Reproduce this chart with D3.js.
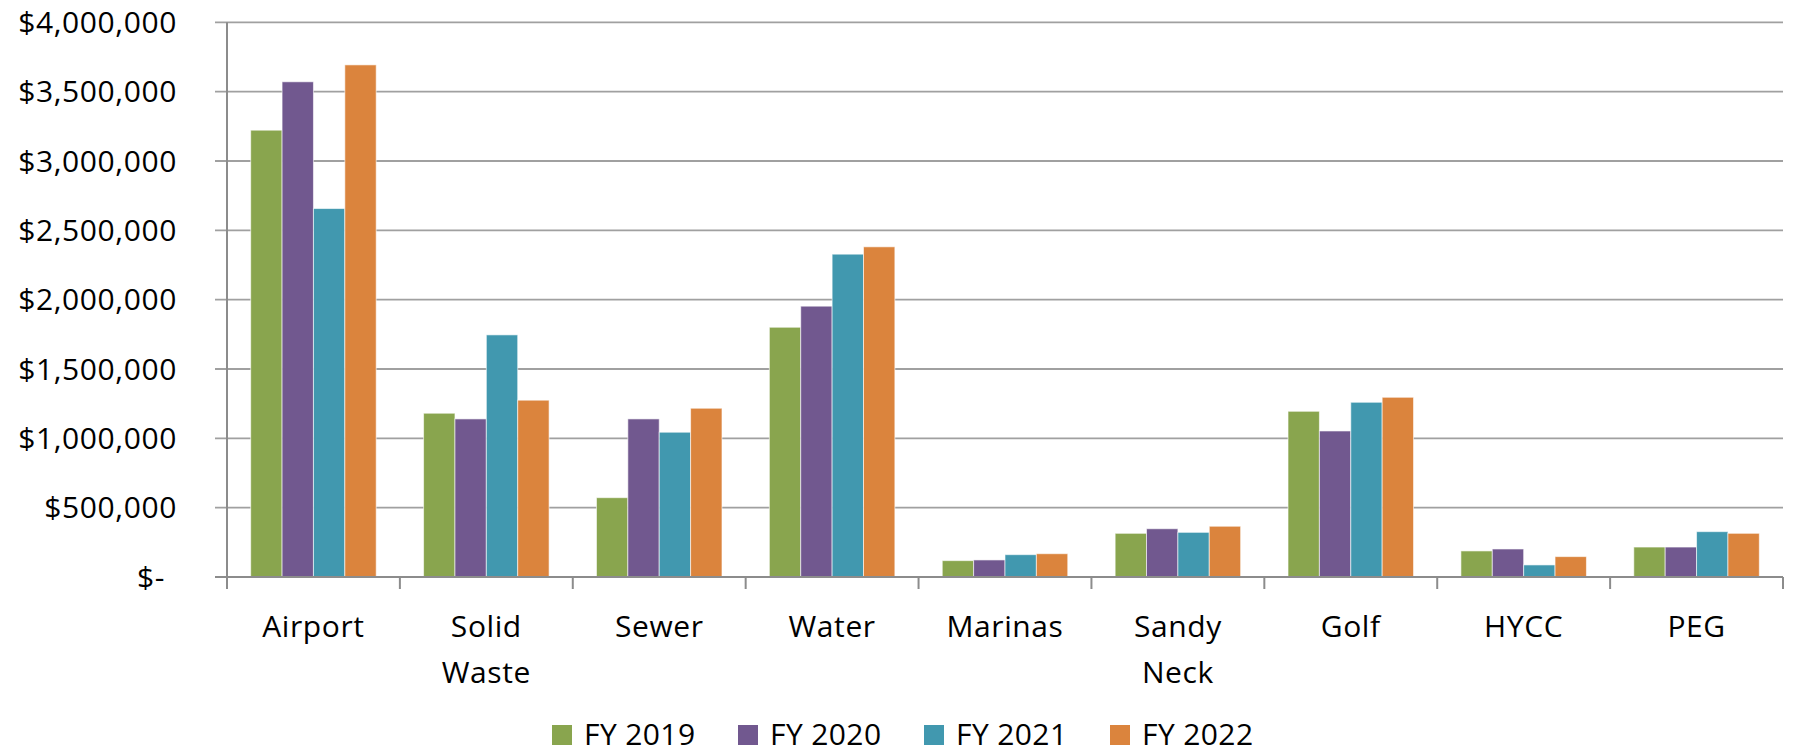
<!DOCTYPE html>
<html>
<head>
<meta charset="utf-8">
<script src="https://cdn.jsdelivr.net/npm/d3@7"></script>
<style>
  body { margin: 0; background: #fff; }
  text { font-family: "Open Sans", "Liberation Sans", sans-serif; fill: #000; }
</style>
</head>
<body>
<div id="chart"></div>
<script>
const categories = [["Airport"], ["Solid", "Waste"], ["Sewer"], ["Water"], ["Marinas"], ["Sandy", "Neck"], ["Golf"], ["HYCC"], ["PEG"]];
const seriesNames = ["FY 2019", "FY 2020", "FY 2021", "FY 2022"];
const fy2019 = [3222000, 1181000, 572000, 1801000, 118000, 315000, 1195000, 188000, 216000];
const fy2020 = [3571000, 1140000, 1140000, 1953000, 123000, 348000, 1053000, 202000, 216000];
const fy2021 = [2657000, 1746000, 1044000, 2328000, 161000, 322000, 1260000, 87000, 327000];
const fy2022 = [3693000, 1275000, 1217000, 2381000, 168000, 366000, 1296000, 147000, 315000];
const yTicks = [0, 500000, 1000000, 1500000, 2000000, 2500000, 3000000, 3500000, 4000000];
const colors = ["#89A54E", "#71588F", "#4198AF", "#DB843D"];

const seriesValues = [fy2019, fy2020, fy2021, fy2022];
const data = categories.map((c, i) => ({
  key: c.join(" "),
  lines: c,
  values: seriesValues.map((s, j) => ({ series: seriesNames[j], value: s[i], idx: j })),
}));

const width = 1797, height = 756;
const margin = { top: 22.3, right: 14, bottom: 179, left: 227 };

const svg = d3.select("#chart")
  .append("svg")
  .attr("width", width)
  .attr("height", height);

const x = d3.scaleBand()
  .domain(data.map((d) => d.key))
  .range([margin.left, width - margin.right])
  .paddingInner(0)
  .paddingOuter(0);

const bw = x.bandwidth();
const xInner = d3.scaleBand()
  .domain(d3.range(seriesNames.length))
  .range([bw * 0.137, bw * 0.863]);

const y = d3.scaleLinear()
  .domain([0, 4000000])
  .range([height - margin.bottom, margin.top]);

// gridlines
svg.append("g")
  .selectAll("line")
  .data(yTicks.filter((t) => t > 0))
  .enter()
  .append("line")
  .attr("x1", margin.left - 12)
  .attr("x2", width - margin.right)
  .attr("y1", (d) => y(d))
  .attr("y2", (d) => y(d))
  .attr("stroke", "#a0a0a0")
  .attr("stroke-width", 1.8);

// y labels
const fmt = d3.format(",");
svg.append("g")
  .selectAll("text")
  .data(yTicks)
  .enter()
  .append("text")
  .attr("x", (d) => (d === 0 ? margin.left - 62 : margin.left - 50))
  .attr("y", (d) => y(d))
  .attr("dy", "0.36em")
  .attr("text-anchor", "end")
  .style("font-size", "30px")
  .style("letter-spacing", "0.6px")
  .text((d) => (d === 0 ? "$-" : "$" + fmt(d)));

// bars
const groups = svg.append("g")
  .selectAll("g")
  .data(data)
  .enter()
  .append("g")
  .attr("transform", (d) => `translate(${x(d.key)},0)`);

groups.selectAll("rect")
  .data((d) => d.values)
  .enter()
  .append("rect")
  .attr("x", (d) => xInner(d.idx))
  .attr("width", xInner.bandwidth())
  .attr("y", (d) => y(d.value))
  .attr("height", (d) => y(0) - y(d.value))
  .attr("fill", (d) => colors[d.idx])
  .attr("stroke", "#ffffff")
  .attr("stroke-opacity", 0.6)
  .attr("stroke-width", 1);

// axes lines
svg.append("line")
  .attr("x1", margin.left).attr("x2", margin.left)
  .attr("y1", margin.top).attr("y2", y(0) + 12)
  .attr("stroke", "#8c8c8c").attr("stroke-width", 2);

svg.append("line")
  .attr("x1", margin.left - 12).attr("x2", width - margin.right)
  .attr("y1", y(0)).attr("y2", y(0))
  .attr("stroke", "#8c8c8c").attr("stroke-width", 2);

// x ticks at band edges
const edges = data.map((d) => x(d.key)).concat([x(data[data.length - 1].key) + bw]);
svg.append("g")
  .selectAll("line")
  .data(edges)
  .enter()
  .append("line")
  .attr("x1", (d) => d).attr("x2", (d) => d)
  .attr("y1", y(0)).attr("y2", y(0) + 12)
  .attr("stroke", "#8c8c8c").attr("stroke-width", 2);

// category labels
const catLabels = svg.append("g")
  .selectAll("text")
  .data(data)
  .enter()
  .append("text")
  .attr("text-anchor", "middle")
  .attr("x", (d) => x(d.key) + bw / 2)
  .attr("y", 637)
  .style("font-size", "30px")
  .style("letter-spacing", "0.6px");

catLabels.selectAll("tspan")
  .data((d) => d.lines.map((l) => ({ l, cx: x(d.key) + bw / 2 })))
  .enter()
  .append("tspan")
  .attr("x", (d) => d.cx)
  .attr("dy", (d, i) => (i === 0 ? 0 : 46))
  .text((d) => d.l);

// legend
const legend = svg.append("g")
  .selectAll("g")
  .data(seriesNames)
  .enter()
  .append("g")
  .attr("transform", (d, i) => `translate(${552 + i * 186},725)`);

legend.append("rect")
  .attr("width", 20)
  .attr("height", 20)
  .attr("fill", (d, i) => colors[i]);

legend.append("text")
  .attr("x", 32)
  .attr("y", 20)
  .style("font-size", "30px")
  .style("letter-spacing", "0.4px")
  .text((d) => d);
</script>
</body>
</html>
